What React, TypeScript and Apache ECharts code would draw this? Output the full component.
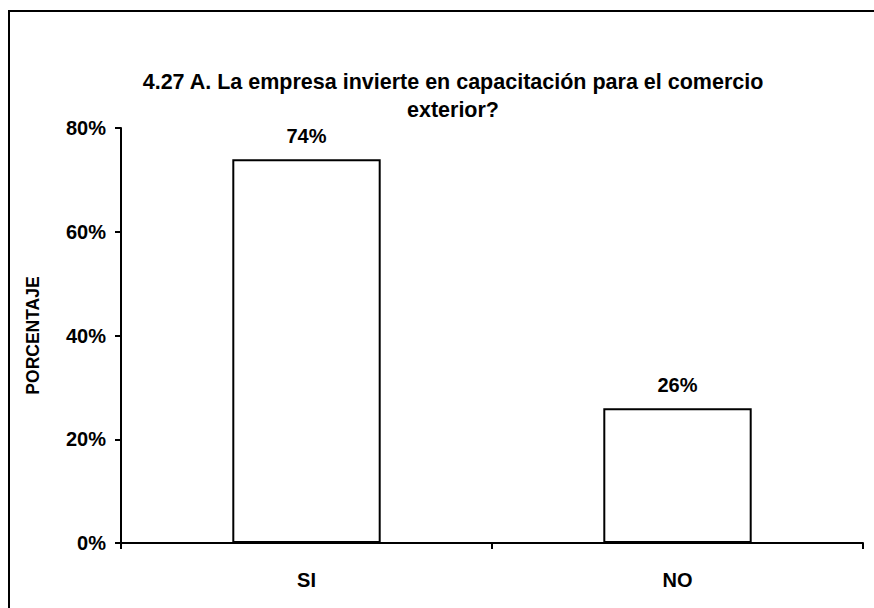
import React, { useEffect, useRef } from "react";
import * as echarts from "echarts";

const categories = ["SI", "NO"];
const percentages = [74, 26];
const yTicks = [0, 20, 40, 60, 80];

const FONT = "'Liberation Sans', Arial, sans-serif";

export default function App() {
  const ref = useRef<HTMLDivElement>(null);

  useEffect(() => {
    if (!ref.current) return;
    const chart = echarts.init(ref.current, undefined, { renderer: "svg" });
    chart.setOption({
      animation: false,
      backgroundColor: "#ffffff",
      textStyle: { fontFamily: FONT, color: "#000" },
      title: {
        text: "4.27 A. La empresa invierte en capacitación para el comercio\nexterior?",
        left: 453,
        top: 68,
        padding: 0,
        textAlign: "center",
        textStyle: {
          fontFamily: FONT,
          fontSize: 21.5,
          fontWeight: "bold",
          color: "#000",
          lineHeight: 28,
          align: "center",
        },
      },
      graphic: [
        {
          type: "rect",
          shape: { x: 9, y: 11, width: 900, height: 700 },
          style: { fill: "none", stroke: "#000", lineWidth: 2 },
          silent: true,
        },
      ],
      grid: { left: 121, right: 11, top: 128, bottom: 65 },
      xAxis: {
        type: "category",
        data: categories,
        boundaryGap: true,
        axisLine: { lineStyle: { color: "#000", width: 2 } },
        axisTick: { show: true, length: 6, lineStyle: { color: "#000", width: 2 } },
        axisLabel: {
          margin: 27,
          fontFamily: FONT,
          fontSize: 20,
          fontWeight: "bold",
          color: "#000",
        },
        splitLine: { show: false },
      },
      yAxis: {
        type: "value",
        min: yTicks[0],
        max: yTicks[yTicks.length - 1],
        interval: 20,
        name: "PORCENTAJE",
        nameLocation: "middle",
        nameGap: 79,
        nameRotate: 90,
        nameTextStyle: {
          fontFamily: FONT,
          fontSize: 17.5,
          fontWeight: "bold",
          color: "#000",
        },
        axisLine: { show: true, lineStyle: { color: "#000", width: 2 } },
        axisTick: { show: true, length: 6, lineStyle: { color: "#000", width: 2 } },
        axisLabel: {
          margin: 15,
          fontFamily: FONT,
          fontSize: 20,
          fontWeight: "bold",
          color: "#000",
          formatter: (v: number) => `${v}%`,
        },
        splitLine: { show: false },
      },
      series: [
        {
          type: "bar",
          data: percentages,
          barWidth: "40%",
          itemStyle: { color: "#ffffff", borderColor: "#000", borderWidth: 2 },
          label: {
            show: true,
            position: "top",
            distance: 13,
            fontFamily: FONT,
            fontSize: 20,
            fontWeight: "bold",
            color: "#000",
            formatter: (p: any) => `${p.value}%`,
          },
        },
      ],
    });
    return () => chart.dispose();
  }, []);

  return (
    <div
      ref={ref}
      style={{ position: "fixed", left: 0, top: 0, width: 874, height: 608 }}
    />
  );
}
